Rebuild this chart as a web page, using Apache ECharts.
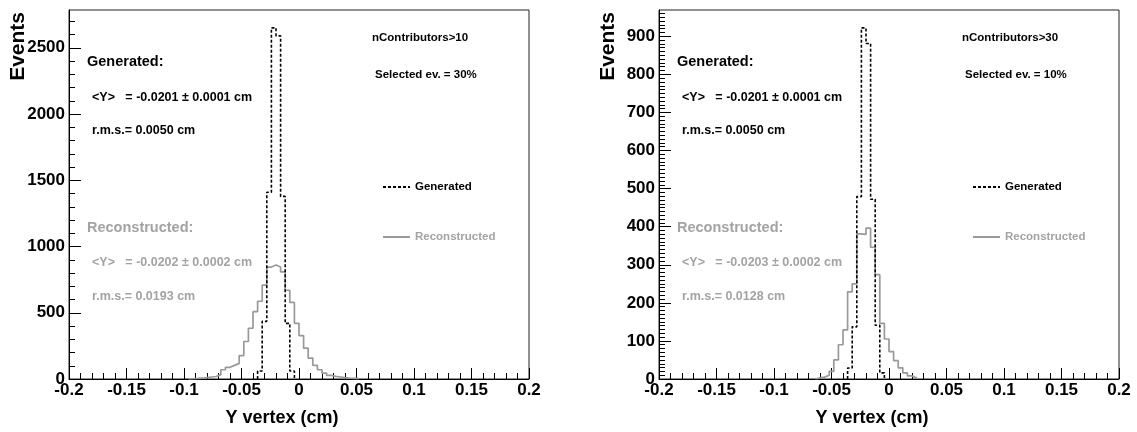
<!DOCTYPE html>
<html>
<head>
<meta charset="utf-8">
<script src="https://cdn.jsdelivr.net/npm/echarts@6/dist/echarts.min.js"></script>
<style>
  html, body { margin: 0; padding: 0; background: #fff; }
  #chart { width: 1137px; height: 432px; }
</style>
</head>
<body>
<div id="chart"></div>
<script>
// Histogram binning (cm)
const BIN_WIDTH = 0.004;

// Panel A: nContributors>10
const genLowA = -0.036;
const genCountsA = [60, 435, 1410, 2650, 2590, 1378, 420, 60];
const recLowA = -0.096;
const recCountsA = [2, 4, 7, 10, 15, 19, 33, 70, 88, 103, 118, 177, 283, 383, 508, 587, 708,
  845, 860, 845, 808, 670, 578, 420, 328, 233, 158, 103, 70, 45, 27, 20, 15, 10, 7, 5, 3];
const yMaxA = 2785;
const yTicksA = [0, 500, 1000, 1500, 2000, 2500];

// Panel B: nContributors>30
const genLowB = -0.036;
const genCountsB = [29, 137, 479, 922, 881, 472, 141, 16];
const recLowB = -0.064;
const recCountsB = [3, 5, 10, 20, 50, 90, 129, 229, 250, 381, 380, 396, 346, 274, 146, 105,
  72, 48, 29, 16, 8, 3];
const yMaxB = 969;
const yTicksB = [0, 100, 200, 300, 400, 500, 600, 700, 800, 900];

// Shared x axis
const xMin = -0.2, xMax = 0.2, xStep = 0.05;
const xTitle = 'Y vertex (cm)';
const yTitle = 'Events';

// Annotation texts
const cutLabels = ['nContributors>10', 'nContributors>30'];
const selLabels = ['Selected ev. = 30%', 'Selected ev. = 10%'];
const genMeanLabels = ['<Y>   = -0.0201 \u00b1 0.0001 cm', '<Y>   = -0.0201 \u00b1 0.0001 cm'];
const genRmsLabels = ['r.m.s.= 0.0050 cm', 'r.m.s.= 0.0050 cm'];
const recMeanLabels = ['<Y>   = -0.0202 \u00b1 0.0002 cm', '<Y>   = -0.0203 \u00b1 0.0002 cm'];
const recRmsLabels = ['r.m.s.= 0.0193 cm', 'r.m.s.= 0.0128 cm'];
const GEN_NAME = 'Generated';
const REC_NAME = 'Reconstructed';

const FONT = '"Liberation Sans", Arial, Helvetica, sans-serif';
const GRAY = '#999999';
const GRAY_TEXT = '#a3a3a3';

// Step outline of a histogram, starting and ending on the baseline
function outline(low, counts) {
  const pts = [[low, 0]];
  counts.forEach(function (c, i) {
    const a = +(low + i * BIN_WIDTH).toFixed(5);
    const b = +(low + (i + 1) * BIN_WIDTH).toFixed(5);
    pts.push([a, c], [b, c]);
  });
  pts.push([+(low + counts.length * BIN_WIDTH).toFixed(5), 0]);
  return pts;
}

function minorTicks(step, max) {
  const out = [];
  for (let v = step; v < max; v += step) out.push(v);
  return out;
}

const panels = [
  { left: 69, yMax: yMaxA, yTicks: yTicksA, yMinor: minorTicks(100, yMaxA),
    gen: outline(genLowA, genCountsA), rec: outline(recLowA, recCountsA) },
  { left: 659, yMax: yMaxB, yTicks: yTicksB, yMinor: minorTicks(10, yMaxB),
    gen: outline(genLowB, genCountsB), rec: outline(recLowB, recCountsB) }
];

const PLOT_W = 460, PLOT_H = 371, PLOT_TOP = 10;
const labelFont = { fontFamily: FONT, fontWeight: 'bold', fontSize: 17, color: '#000' };
const plain = function (v) { return String(v); };

const grid = [], xAxis = [], yAxis = [], series = [], legend = [], graphic = [];

panels.forEach(function (p, k) {
  grid.push({ left: p.left, top: PLOT_TOP, width: PLOT_W, height: PLOT_H,
    show: true, borderColor: '#222', borderWidth: 1, backgroundColor: 'transparent' });

  xAxis.push({
    gridIndex: k, type: 'value', min: xMin, max: xMax, interval: xStep,
    axisLine: { onZero: false, lineStyle: { color: '#000', width: 1 } },
    axisTick: { inside: true, length: 11, lineStyle: { color: '#000' } },
    minorTick: { show: true, splitNumber: 5, length: 6, lineStyle: { color: '#000' } },
    splitLine: { show: false },
    axisLabel: Object.assign({ margin: 3, formatter: plain }, labelFont),
    name: xTitle, nameLocation: 'middle', nameGap: 30,
    nameTextStyle: { fontFamily: FONT, fontWeight: 'bold', fontSize: 18, color: '#000',
      padding: [0, 34, 0, 0] }
  });

  yAxis.push({
    gridIndex: k, type: 'value', position: 'left', min: 0, max: p.yMax,
    axisLine: { show: true, onZero: false, lineStyle: { color: '#000', width: 1 } },
    axisTick: { inside: true, length: 12, customValues: p.yTicks, lineStyle: { color: '#000' } },
    axisLabel: Object.assign({ margin: 4, customValues: p.yTicks, formatter: plain }, labelFont),
    splitLine: { show: false }
  });
  yAxis.push({
    gridIndex: k, type: 'value', position: 'left', min: 0, max: p.yMax,
    axisLine: { show: false, onZero: false },
    axisTick: { inside: true, length: 6, customValues: p.yMinor, lineStyle: { color: '#000' } },
    axisLabel: { show: false },
    splitLine: { show: false }
  });

  series.push({
    name: REC_NAME, type: 'line', xAxisIndex: k, yAxisIndex: 2 * k,
    data: p.rec, symbol: 'none', silent: true,
    lineStyle: { color: GRAY, width: 1.7 }, itemStyle: { color: GRAY }
  });
  series.push({
    name: GEN_NAME, type: 'line', xAxisIndex: k, yAxisIndex: 2 * k,
    data: p.gen, symbol: 'none', silent: true,
    lineStyle: { color: '#000', width: 1.6, type: [3, 2] }, itemStyle: { color: '#000' }
  });

  const dx = p.left - 69;
  legend.push({
    left: 382 + dx, top: 181, orient: 'vertical', itemGap: 38, padding: 0,
    itemWidth: 27, itemHeight: 10, selectedMode: false,
    itemStyle: { opacity: 0 },
    textStyle: { fontFamily: FONT, fontWeight: 'bold', fontSize: 11.5 },
    data: [
      { name: GEN_NAME, textStyle: { color: '#000' } },
      { name: REC_NAME, textStyle: { color: GRAY_TEXT } }
    ]
  });

  function txt(s, x, y, size, color) {
    graphic.push({ type: 'text', x: x + dx, y: y, silent: true,
      style: { text: s, fill: color, fontFamily: FONT, fontWeight: 'bold', fontSize: size,
        align: 'left', verticalAlign: 'middle' } });
  }
  txt(cutLabels[k], 372, 38, 11.5, '#000');
  txt(selLabels[k], 375, 75, 11.5, '#000');
  txt('Generated:', 87, 62, 14.5, '#000');
  txt(genMeanLabels[k], 92, 98, 12.5, '#000');
  txt(genRmsLabels[k], 92, 131, 12.5, '#000');
  txt('Reconstructed:', 87, 228, 14.5, GRAY_TEXT);
  txt(recMeanLabels[k], 92, 263, 12.5, GRAY_TEXT);
  txt(recRmsLabels[k], 92, 297, 12.5, GRAY_TEXT);

  graphic.push({ type: 'text', x: 18 + dx, y: 12, rotation: Math.PI / 2, silent: true,
    style: { text: yTitle, fill: '#000', fontFamily: FONT, fontWeight: 'bold', fontSize: 21,
      align: 'right', verticalAlign: 'middle' } });
});

const chart = echarts.init(document.getElementById('chart'), null, { renderer: 'canvas' });
chart.setOption({
  animation: false,
  backgroundColor: '#fff',
  grid: grid, xAxis: xAxis, yAxis: yAxis, series: series, legend: legend, graphic: graphic
});
</script>
</body>
</html>
